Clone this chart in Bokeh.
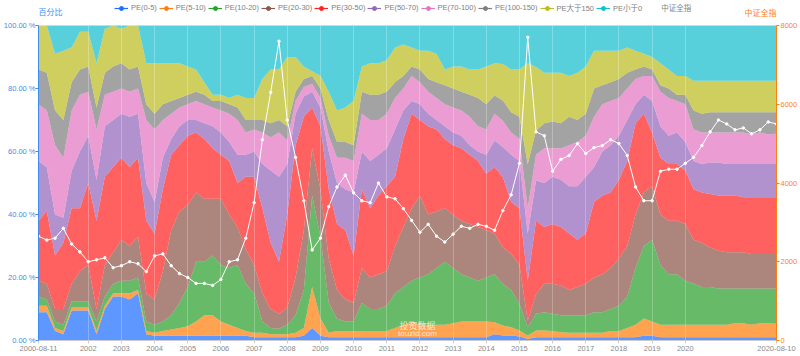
from bokeh.plotting import figure
from bokeh.models import (ColumnDataSource, Range1d, LinearAxis, Legend, LegendItem,
                          PrintfTickFormatter, FixedTicker, Label)
from bokeh.embed import file_html
from bokeh.resources import INLINE

# ---------------- data ----------------
series_names = ["PE(0-5)", "PE(5-10)", "PE(10-20)", "PE(20-30)", "PE(30-50)",
                "PE(50-70)", "PE(70-100)", "PE(100-150)", "PE大于150", "PE小于0"]
index_name = "中证全指"
series_colors = ["#1e6fff", "#ff7f0e", "#2ca02c", "#8c564b", "#ff2323",
                 "#9467bd", "#e377c2", "#7f7f7f", "#bcbd22", "#17becf"]

# quarterly sample dates before 2020, roughly three-weekly in 2020 (category axis)
dates = []
for k in range(78):
    m = 8 + 3 * k
    dates.append(f"{2000 + (m - 1) // 12}-{(m - 1) % 12 + 1:02d}")
dates[0] = "2000-08-11"
dates += ["2020-01-03", "2020-01-23", "2020-02-14", "2020-03-06", "2020-03-27", "2020-04-17",
          "2020-05-08", "2020-05-29", "2020-06-19", "2020-07-10", "2020-07-31", "2020-08-10"]

tick_labels = ["2000-08-11", "2002", "2003", "2004", "2005", "2006", "2007", "2008", "2009",
               "2010", "2011", "2012", "2013", "2014", "2015", "2016", "2017", "2018",
               "2019", "2020", "2020-08-10"]

pe_0_5 = [9, 9, 3, 2, 9.5, 9.5, 9.5, 2, 10, 14,
          14, 13, 15, 2, 1.5, 1.5, 1.5, 1.5, 1.5, 1.5,
          1.5, 1.5, 1.5, 1.5, 1.5, 1.5, 1, 1, 1, 1,
          1, 1, 1.5, 4, 1.5, 1, 1, 1, 1, 1,
          1, 1, 1, 1, 1, 1, 1, 1, 1, 1,
          1, 1, 1, 1, 1, 2, 1.6, 1.6, 1.3, 0.5,
          1, 1, 1, 1, 1, 1, 1, 1, 1, 1,
          1, 1, 1, 1.5, 1.5, 1, 1, 1, 1, 1,
          1, 1, 1, 1, 1, 1, 1, 1, 1, 1]
pe_5_10 = [2, 2, 1, 1, 1, 1, 1, 1, 1, 1,
           1, 2, 1, 1, 1, 1.5, 2, 2.5, 3, 4.5,
           6.5, 6.5, 4.5, 3.5, 2.5, 1.5, 1.5, 1.5, 1, 1,
           1, 1.5, 2.5, 13, 5.5, 1.5, 2, 2, 2, 2,
           2, 2, 2, 3, 4, 5, 4, 4, 4, 4,
           4.5, 5, 5, 5, 5, 3.8, 3.2, 2.6, 1.9, 1.1,
           2.2, 2.2, 2, 1.6, 1.5, 1.5, 1.5, 1.5, 1.5, 2,
           2, 3, 4, 5.5, 4.5, 4, 4, 4, 4, 4,
           4, 4, 4, 4, 4.5, 4.5, 4, 4.5, 4.5, 4.3]
pe_10_20 = [3, 2, 2, 2, 2, 2, 2, 3, 3, 3,
            4, 4, 4, 3, 2.5, 3, 4.5, 8, 12.5, 19,
            17, 19, 18, 18, 20, 15, 12.5, 3.5, 2, 1.7,
            3, 5.5, 12, 29, 26, 9.5, 4, 3, 3, 9,
            7, 7, 8, 11, 12, 13, 15, 16, 18, 20,
            17.5, 15, 14, 13, 14, 15.2, 13.2, 11.8, 8.4, 2.6,
            5.3, 5.8, 5.5, 5.4, 5.5, 5.5, 5.5, 6.5, 6.5, 7,
            8, 10, 18, 23, 26, 19, 16, 16, 14, 13,
            12, 12, 11.5, 11.5, 11, 11, 11.5, 11, 11, 11.1]
pe_20_30 = [5, 5, 4, 5, 5.5, 9.5, 11.5, 4, 10, 10,
            13, 11, 13, 9, 8, 16, 27, 29, 26, 22,
            20, 18, 21, 17, 12, 11, 9, 9, 6, 4.8,
            5.5, 12, 19, 15, 15, 14, 9, 7, 6, 11,
            10, 11, 11, 15, 19, 23, 26, 19, 18, 17,
            17, 17, 17, 17, 15, 13, 11.6, 11.5, 12.4, 2.1,
            6.3, 9, 9.5, 9.5, 8, 9, 10, 11, 12, 13,
            15, 16, 17, 17, 17, 16, 17, 17, 18, 14,
            14, 12.5, 12, 11.5, 11.5, 11.5, 11, 11, 11, 11.1]
pe_30_50 = [19, 23, 17, 21, 24, 20, 26, 28, 28, 27,
            26, 25, 25, 23, 21, 26, 24, 21, 22, 19,
            19, 16, 14, 17, 14, 23, 28, 27, 21, 16.5,
            29.5, 42, 36, 13, 20, 22, 21, 22, 15, 25,
            22, 25, 27, 22, 28, 30, 24, 28, 26, 22,
            22, 23, 22, 21, 18, 21, 22.3, 16.5, 18, 12.7,
            23.2, 18, 19, 18.5, 18, 15, 16, 24, 25, 24,
            25, 27, 29, 25, 17, 18, 18, 18, 17, 16,
            16, 17, 17.5, 18, 18, 17.5, 18, 18, 18, 18]
pe_50_70 = [19, 14, 13, 8, 12, 18, 15, 13, 16, 15,
            14, 16, 14, 12, 10, 10, 5, 6, 5, 4,
            5, 7, 7, 6, 9, 7, 8, 14, 23, 27,
            16, 10, 6.5, 5, 6, 12, 13, 13, 20, 12,
            15, 13, 12, 15, 9, 4, 5, 4, 3, 4,
            4, 4, 3, 3, 6, 8.5, 9.5, 15, 15, 15,
            12.8, 14, 15, 15, 15, 17, 18, 11, 14, 15,
            14, 13, 6, 6, 10, 10, 9, 10, 9, 9,
            9, 10, 10.5, 10, 10, 10.5, 10.5, 10.5, 10.5, 10.5]
pe_70_100 = [18, 18, 22, 19, 19, 18, 14, 16, 10, 9,
             8, 8, 8, 20, 23, 12, 8, 6, 5, 6,
             6, 6, 7, 9, 11, 7, 7, 10, 10.5, 14,
             7.5, 4, 3, 2.5, 3, 5, 8, 10, 10, 12,
             13, 11, 11, 10, 7, 8, 7, 7, 7, 7,
             8, 8, 9, 8, 8, 8.5, 8.4, 7, 7, 8,
             8.2, 11, 9, 10, 13, 14, 13, 16, 15, 14,
             12, 10, 8, 6, 8, 11, 12, 10, 12, 10,
             10, 9.5, 9.5, 10, 10, 10, 9.5, 10, 9.5, 9.6]
pe_100_150 = [11, 12, 11, 12, 9, 8, 8, 7, 7, 8,
              8, 7, 7, 5, 5, 5, 4, 3, 3, 3,
              3, 2, 3, 3, 4, 4, 3, 4, 4.5, 4,
              4.5, 3, 2.5, 2.5, 3, 5, 5, 5, 5, 7,
              8, 8, 7, 5, 4, 3, 4, 4, 5, 6,
              6, 6, 7, 9, 8, 5.8, 6.4, 6.5, 7, 14,
              7.7, 8, 8.5, 8, 9, 7, 7, 9, 6, 6,
              6, 5, 3, 3, 2, 2, 3, 2, 3, 6,
              6, 6.5, 6.5, 6.5, 6.5, 6.5, 7, 6.5, 7, 6.9]
pe_gt150 = [14, 15, 18, 22, 11, 12, 11, 14, 14, 13,
            11, 14, 13, 13, 16, 13, 12, 11, 9, 7,
            4, 2, 2, 2, 4, 7, 7, 13, 17, 16,
            22, 11, 4, 1.5, 4, 9, 10, 11, 14, 8,
            10, 10, 10, 11, 10, 6, 6, 9, 9, 5,
            7, 8, 8, 9, 12, 10.2, 11.6, 13.5, 15, 32,
            20.1, 16, 15.5, 16, 13, 15, 15, 12, 11, 10,
            9, 8, 6, 4, 4, 7, 6, 6, 6, 9.5,
            10.5, 10, 10, 10, 10, 10, 10, 10, 10, 10]
pe_lt0 = [0, 0, 9, 8, 7, 2, 2, 12, 1, 0,
          1, 0, 0, 12, 12, 12, 12, 12, 13, 14,
          18, 22, 22, 23, 22, 23, 23, 17, 14, 14,
          10, 10, 13, 14.5, 16, 21, 27, 26, 24, 13,
          12, 12, 11, 7, 6, 7, 8, 8, 9, 14,
          13, 13, 14, 14, 13, 12, 12.2, 14, 14, 12,
          13.2, 15, 15, 15, 16, 15, 13, 8, 8, 8,
          8, 7, 8, 9, 10, 12, 14, 16, 16, 17.5,
          17.5, 17.5, 17.5, 17.5, 17.5, 17.5, 17.5, 17.5, 17.5, 17.5]
csi_all = [2650, 2550, 2600, 2850, 2450, 2250, 2000, 2050, 2100, 1850,
           1900, 2000, 1950, 1750, 2150, 2200, 1900, 1700, 1600, 1450,
           1450, 1400, 1550, 2000, 2050, 2600, 3500, 5100, 6300, 7600,
           5600, 4650, 3550, 2300, 2600, 3400, 3900, 4200, 3750, 3550,
           3500, 4000, 3650, 3600, 3350, 3050, 2750, 2950, 2650, 2500,
           2700, 2900, 2850, 2950, 2900, 2800, 3300, 3700, 4500, 7700,
           5300, 5200, 4300, 4600, 4700, 5000, 4750, 4900, 4950, 5100,
           5000, 4700, 3900, 3550, 3550, 4300, 4350, 4350, 4500, 4650,
           4950, 5300, 5600, 5500, 5350, 5400, 5250, 5350, 5550, 5500]

series_values = [pe_0_5, pe_5_10, pe_10_20, pe_20_30, pe_30_50,
                 pe_50_70, pe_70_100, pe_100_150, pe_gt150, pe_lt0]

# ---------------- build ----------------
n = len(dates)
xs = list(range(n))
cols = [f"s{k}" for k in range(len(series_values))]
data = {"x": xs, "idx": csi_all}
for c, v in zip(cols, series_values):
    data[c] = v
src = ColumnDataSource(data)

tick_pos = []
for lbl in tick_labels:
    if len(lbl) == 10:
        tick_pos.append(dates.index(lbl))
    else:
        tick_pos.append(next(i for i, d in enumerate(dates) if d.startswith(lbl)))

FONT = "Liberation Sans, Noto Sans CJK SC"
BLUE = "#3a8ef0"
ORANGE = "#ff7f0e"

# frame spans the full height above the x axis; value axes are bounded to their data span
FRAME_H, PLOT_H = 340, 315            # pixels: whole frame, 0..100 % span
top_factor = FRAME_H / PLOT_H

p = figure(width=800, height=356, x_range=Range1d(0, n - 1),
           y_range=Range1d(0, 100 * top_factor),
           output_backend="svg", toolbar_location=None,
           min_border_left=34, min_border_right=22, min_border_top=0, min_border_bottom=16)
p.outline_line_color = None
p.background_fill_color = "white"
p.extra_y_ranges = {"idx": Range1d(0, 8000 * top_factor)}

p.varea_stack(stackers=cols, x="x", color=series_colors, fill_alpha=0.72, source=src)

idx_line = p.line("x", "idx", source=src, y_range_name="idx", line_color="white", line_width=1)
idx_pts = p.scatter("x", "idx", source=src, y_range_name="idx", size=2.5,
                    fill_color="white", line_color="white")

# axes
ya = p.yaxis[0]
ya.bounds = (0, 100)
ya.ticker = FixedTicker(ticks=[0, 20, 40, 60, 80, 100])
ya.formatter = PrintfTickFormatter(format="%.2f %%")
ya.axis_line_color = BLUE
ya.major_tick_line_color = BLUE
ya.minor_tick_line_color = None
ya.major_tick_out = 3
ya.major_tick_in = 0
ya.major_label_standoff = 0
ya.major_label_text_color = BLUE
ya.major_label_text_font = FONT
ya.major_label_text_font_size = "7.5px"

ra = LinearAxis(y_range_name="idx", ticker=FixedTicker(ticks=[0, 2000, 4000, 6000, 8000]))
ra.bounds = (0, 8000)
ra.axis_line_color = ORANGE
ra.major_tick_line_color = ORANGE
ra.minor_tick_line_color = None
ra.major_tick_out = 3
ra.major_tick_in = 0
ra.major_label_standoff = 1
ra.major_label_text_color = ORANGE
ra.major_label_text_font = FONT
ra.major_label_text_font_size = "7.5px"
p.add_layout(ra, "right")

xa = p.xaxis[0]
xa.ticker = FixedTicker(ticks=tick_pos)
xa.major_label_overrides = {pos: lbl for pos, lbl in zip(tick_pos, tick_labels)}
xa.axis_line_color = "#cccccc"
xa.major_tick_line_color = "#cccccc"
xa.minor_tick_line_color = None
xa.major_tick_out = 3
xa.major_tick_in = 0
xa.major_label_standoff = 2
xa.major_label_text_color = "#8a8a8a"
xa.major_label_text_font = FONT
xa.major_label_text_font_size = "7.5px"

p.ygrid.visible = False
p.xgrid.ticker = FixedTicker(ticks=tick_pos)
p.xgrid.grid_line_color = "white"
p.xgrid.grid_line_alpha = 0.25
p.xgrid.level = "annotation"

# legend (line + circle markers); the legend-only renderers hold no visible point
nan = float("nan")
items = []
for name, c in zip(series_names, series_colors):
    lr = p.line(x=[nan], y=[nan], line_color=c, line_width=1.2)
    cr = p.scatter(x=[nan], y=[nan], marker="circle", size=7, fill_color=c, line_color=c)
    items.append(LegendItem(label=name, renderers=[lr, cr]))
items.append(LegendItem(label=index_name, renderers=[idx_line, idx_pts]))
legend = Legend(items=items, orientation="horizontal", location=(76, 327),
                glyph_width=14, glyph_height=10, label_height=10, label_width=10,
                label_standoff=3, spacing=2, padding=0, margin=0,
                label_text_font=FONT, label_text_font_size="7.5px",
                label_text_color="#808080", label_text_baseline="middle",
                background_fill_alpha=0, border_line_alpha=0)
p.add_layout(legend, "center")

# axis names
p.add_layout(Label(x=0, y=328, x_units="data", y_units="screen", text="百分比",
                   text_align="left", text_baseline="middle", text_color=BLUE,
                   text_font=FONT, text_font_size="8px"))
p.add_layout(Label(x=n - 1, y=327, x_units="data", y_units="screen", text=index_name,
                   text_align="right", text_baseline="middle", text_color=ORANGE,
                   text_font=FONT, text_font_size="8px"))

# watermark
p.add_layout(Label(x=45.7, y=15, x_units="data", y_units="screen", text="投资数据",
                   text_align="center", text_baseline="middle", text_color="white",
                   text_alpha=0.75, text_font=FONT, text_font_size="9px"))
p.add_layout(Label(x=45.7, y=7, x_units="data", y_units="screen", text="touzid.com",
                   text_align="center", text_baseline="middle", text_color="white",
                   text_alpha=0.75, text_font=FONT, text_font_size="8px"))

open("out.html", "w").write(file_html(p, INLINE))
